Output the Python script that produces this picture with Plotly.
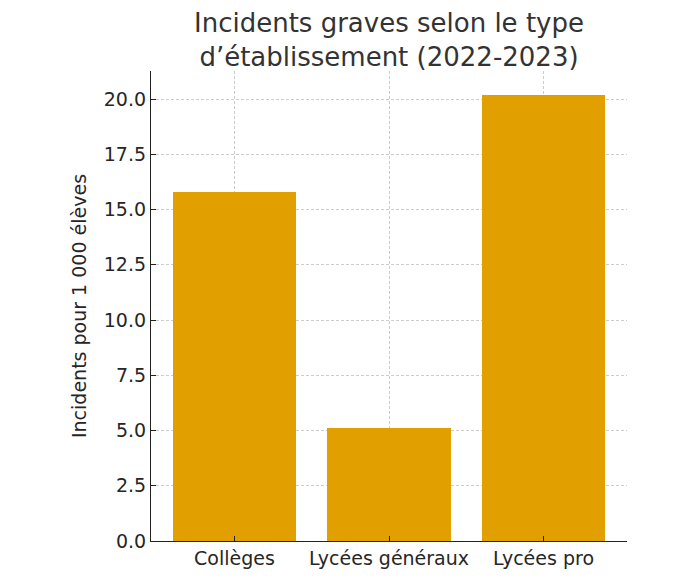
import plotly.graph_objects as go

categories = ["Collèges", "Lycées généraux", "Lycées pro"]
values = [15.8, 5.1, 20.2]
y_ticks = [0.0, 2.5, 5.0, 7.5, 10.0, 12.5, 15.0, 17.5, 20.0]

FONT = "DejaVu Sans"

fig = go.Figure(go.Bar(
    x=list(range(len(categories))),
    y=values,
    width=0.8,
    marker=dict(color="#E2A000", line=dict(width=0)),
))

fig.update_layout(
    width=688, height=585,
    paper_bgcolor="white", plot_bgcolor="white",
    margin=dict(l=151, r=61, t=71, b=44),
    font=dict(family=FONT, size=19, color="#262626"),
    title=dict(
        text="Incidents graves selon le type<br>d’établissement (2022-2023)",
        font=dict(family=FONT, size=26, color="#333333"),
        x=(151 + 627) / 2 / 688, xanchor="center",
        y=1 - 32 / 585, yanchor="top", yref="container",
    ),
    showlegend=False,
    bargap=0,
)

fig.update_xaxes(
    range=[-0.54, 2.54],
    tickmode="array", tickvals=list(range(len(categories))), ticktext=categories,
    showline=True, linecolor="#222222", linewidth=1.2,
    ticks="inside", ticklen=5, tickcolor="#222222",
    showgrid=True, gridcolor="#cccccc", griddash="3px,2px", gridwidth=1,
    zeroline=False, tickfont=dict(size=19, color="#262626"),
)
fig.update_yaxes(
    range=[0, 21.27],
    tickmode="array", tickvals=y_ticks, ticktext=[f"{v:.1f}" for v in y_ticks],
    showline=True, linecolor="#222222", linewidth=1.2,
    ticks="inside", ticklen=5, tickcolor="#222222",
    showgrid=True, gridcolor="#cccccc", griddash="3px,2px", gridwidth=1,
    zeroline=False, tickfont=dict(size=19, color="#262626"),
    title=dict(text="Incidents pour 1 000 élèves", font=dict(size=19, color="#262626"), standoff=12),
)

fig.write_html("out.html", config={"displayModeBar": False},
               post_script="document.body.style.margin='0';")
